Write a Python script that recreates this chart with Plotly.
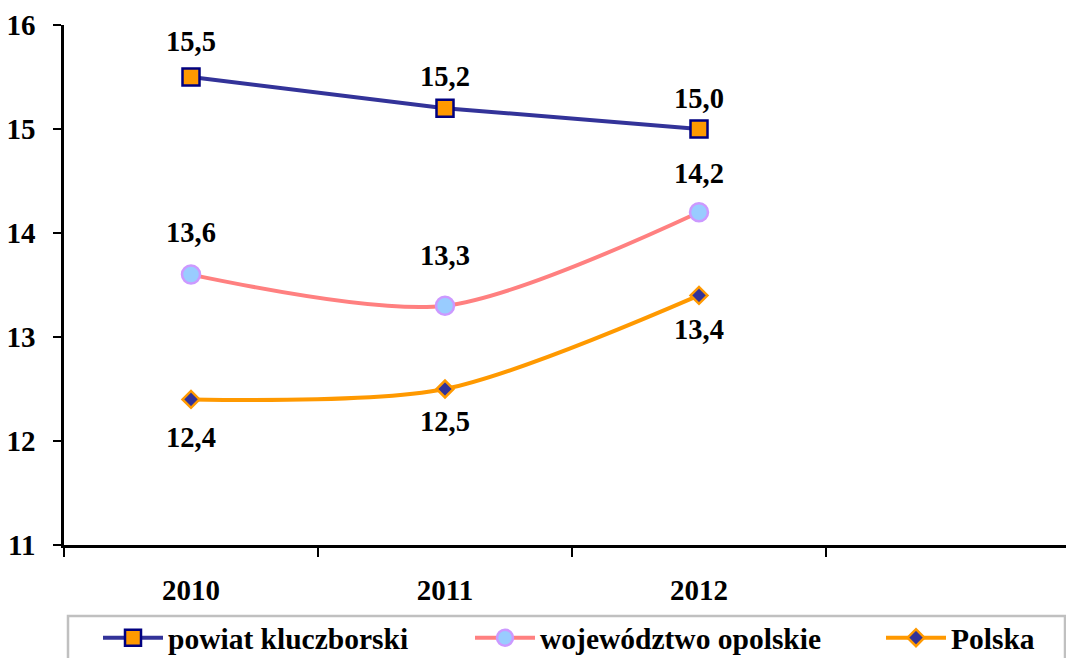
import plotly.graph_objects as go

years = ["2010", "2011", "2012"]
powiat = [15.5, 15.2, 15.0]
wojewodztwo = [13.6, 13.3, 14.2]
polska = [12.4, 12.5, 13.4]
names = ["powiat kluczborski", "województwo opolskie", "Polska"]
y_ticks = [11, 12, 13, 14, 15, 16]

FONT = "Liberation Serif"
OFF = 8  # page body margin
W, H = 1074 - OFF, 658 - OFF
L, T = 64 - OFF, 25 - OFF
B = 658 - 545
R = 0
pw, ph = W - L - R, H - T - B
xs = list(range(len(years)))

def px_x(p):
    return (p - OFF - L) / pw

def px_y(p):
    return (T + ph - (p - OFF)) / ph

def bfont(size=29):
    return dict(family=FONT, size=size, color="black", weight="bold")

fig = go.Figure()
series = [
    dict(y=powiat, name=names[0], line=dict(color="#333399", width=4, shape="linear"),
         marker=dict(symbol="square", size=17, color="#FF9900", line=dict(color="#000080", width=2.5)),
         legend="legend"),
    dict(y=wojewodztwo, name=names[1], line=dict(color="#FF8080", width=4, shape="spline", smoothing=0.8),
         marker=dict(symbol="circle", size=18, color="#99CCFF", line=dict(color="#CC99FF", width=2.5)),
         legend="legend2"),
    dict(y=polska, name=names[2], line=dict(color="#FF9900", width=4, shape="spline", smoothing=0.8),
         marker=dict(symbol="diamond", size=13, color="#333399", line=dict(color="#FF9900", width=2.5)),
         legend="legend3"),
]
for s in series:
    fig.add_trace(go.Scatter(x=xs, y=s["y"], name=s["name"], mode="lines+markers",
                             line=s["line"], marker=s["marker"], legend=s["legend"],
                             hoverinfo="skip"))

# data labels
shifts = [[36, 32, 31], [42, 50, 39], [-38, -32, -34]]
annots = []
for vals, sh in zip([powiat, wojewodztwo, polska], shifts):
    for x, v, d in zip(xs, vals, sh):
        annots.append(dict(x=x, y=v, xref="x", yref="y",
                           text=f"{v:.1f}".replace(".", ","),
                           showarrow=False, yshift=d, xanchor="center", yanchor="middle",
                           font=bfont(28.5)))

legend_common = dict(orientation="h", bgcolor="rgba(0,0,0,0)", borderwidth=0,
                     font=bfont(29.5), itemwidth=60, xanchor="left", yanchor="middle")
lx = [98, 470, 881]
ly = px_y(638)

fig.update_layout(
    width=W, height=H,
    margin=dict(l=L, r=R, t=T, b=B, pad=0, autoexpand=False),
    paper_bgcolor="white", plot_bgcolor="white",
    font=bfont(),
    showlegend=True,
    annotations=annots,
    legend=dict(x=px_x(lx[0]), y=ly, **legend_common),
    legend2=dict(x=px_x(lx[1]), y=ly, **legend_common),
    legend3=dict(x=px_x(lx[2]), y=ly, **legend_common),
    shapes=[dict(type="rect", xref="paper", yref="paper",
                 x0=px_x(68), x1=px_x(1065), y0=px_y(616), y1=px_y(670),
                 line=dict(color="#C0C0C0", width=2.5), layer="below")],
    xaxis=dict(range=[-0.5, -0.5 + pw / 254.0], automargin=False,
               tickmode="array", tickvals=xs, ticktext=years,
               showline=True, linecolor="black", linewidth=2.5,
               ticks="", showgrid=False, zeroline=False,
               minor=dict(tickmode="linear", tick0=-0.5, dtick=1, ticks="outside",
                          ticklen=9, tickwidth=2, tickcolor="black", showgrid=False),
               ticklabelstandoff=17, tickfont=bfont(29)),
    yaxis=dict(range=[11, 16], tickvals=y_ticks, ticktext=[str(t) for t in y_ticks],
               automargin=False,
               showline=True, linecolor="black", linewidth=2.5,
               ticks="outside", ticklen=8, tickwidth=2, tickcolor="black",
               showgrid=False, zeroline=False, ticklabelstandoff=12,
               tickfont=bfont(29)),
)

fig.write_html("out.html")
